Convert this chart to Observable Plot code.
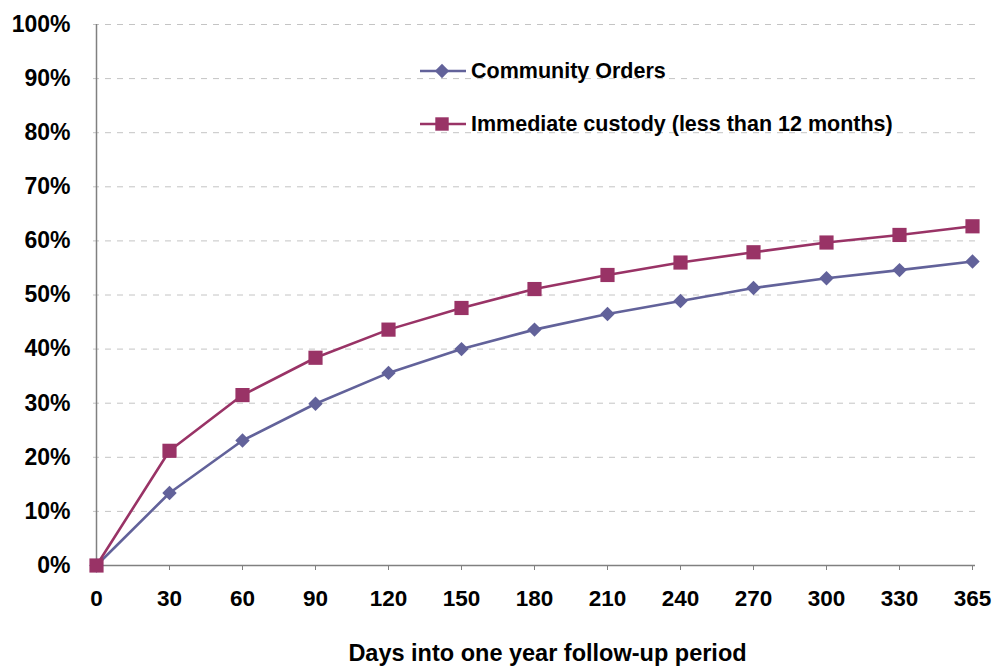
<!DOCTYPE html>
<html><head><meta charset="utf-8">
<script src="https://cdn.jsdelivr.net/npm/d3@7"></script>
<script src="https://cdn.jsdelivr.net/npm/@observablehq/plot@0.6"></script>
<style>
body{margin:0;background:#fff;}
#wrap{position:relative;width:998px;height:670px;font-family:"Liberation Sans",Arial,sans-serif;font-weight:bold;color:#000;}
#wrap svg.plot{display:block;}
#wrap g[aria-label="x-axis tick label"]{font-size:22.5px;}
#wrap g[aria-label="y-axis tick label"]{font-size:23px;}
.leg{position:absolute;left:420px;display:flex;align-items:center;font-size:21.5px;white-space:nowrap;}
.leg svg{margin-right:5px;}
</style></head>
<body><div id="wrap"></div>
<script>
const days = ["0","30","60","90","120","150","180","210","240","270","300","330","365"];
const community = [0,13.4,23.1,29.9,35.6,40.0,43.6,46.5,48.9,51.3,53.1,54.6,56.2];
const custody = [0,21.2,31.5,38.4,43.6,47.6,51.1,53.7,56.0,57.9,59.7,61.1,62.7];
const yTicks = [0,10,20,30,40,50,60,70,80,90,100];
const seriesNames = ["Community Orders","Immediate custody (less than 12 months)"];
const xTitle = "Days into one year follow-up period";
const colComm = "#62629A", colCust = "#993366";

const commRows = days.map((d,i)=>({day:d, v:community[i]}));
const custRows = days.map((d,i)=>({day:d, v:custody[i]}));

const chart = Plot.plot({
  width: 998, height: 670,
  marginLeft: 93, marginRight: 23, marginTop: 24, marginBottom: 105,
  style: {fontFamily: '"Liberation Sans", Arial, sans-serif', fontWeight: "bold", color: "#000", background: "#fff"},
  x: {type: "point", domain: days, padding: 0},
  y: {domain: [0,100]},
  marks: [
    Plot.gridY(yTicks.filter(t=>t>0), {stroke:"#c4c4c4", strokeOpacity:1, strokeDasharray:"6,6", strokeWidth:1}),
    Plot.axisY(yTicks, {tickSize:0, tickPadding:23, fontSize:23, tickFormat:d=>d+"%", label:null}),
    Plot.axisX(days, {tickSize:5, tickPadding:20, fontSize:22.5, stroke:"#808080", label:null}),
    Plot.ruleY([0], {stroke:"#808080", strokeWidth:1.5}),
    Plot.ruleX([days[0]], {y1:0, y2:100, stroke:"#808080", strokeWidth:1.5}),
    Plot.line(commRows, {x:"day", y:"v", stroke:colComm, strokeWidth:2.6}),
    Plot.dot(commRows, {x:"day", y:"v", symbol:"diamond2", r:6.5, fill:colComm, stroke:"none"}),
    Plot.line(custRows, {x:"day", y:"v", stroke:colCust, strokeWidth:2.6}),
    Plot.dot(custRows, {x:"day", y:"v", symbol:"square", r:8, fill:colCust, stroke:"none"}),
    Plot.text([xTitle], {frameAnchor:"bottom", dy:95, dx:13, fontSize:23.5, fontWeight:"bold", text:d=>d})
  ]
});
const wrap = document.getElementById("wrap");
wrap.appendChild(chart);

function legendRow(name, color, sym, top){
  const div = document.createElement("div");
  div.className = "leg";
  div.style.top = (top-13)+"px";
  const s = d3.create("svg").attr("width",46).attr("height",26);
  s.append("line").attr("x1",0).attr("x2",46).attr("y1",13).attr("y2",13).attr("stroke",color).attr("stroke-width",2.6);
  const size = sym === "square" ? 180 : 130;
  s.append("path").attr("transform","translate(22,13)")
   .attr("d", d3.symbol(sym === "square" ? d3.symbolSquare : d3.symbolDiamond2, size)())
   .attr("fill", color);
  div.appendChild(s.node());
  const t = document.createElement("span");
  t.textContent = name;
  div.appendChild(t);
  wrap.appendChild(div);
}
legendRow(seriesNames[0], colComm, "diamond", 71);
legendRow(seriesNames[1], colCust, "square", 124);
</script>
</body></html>
